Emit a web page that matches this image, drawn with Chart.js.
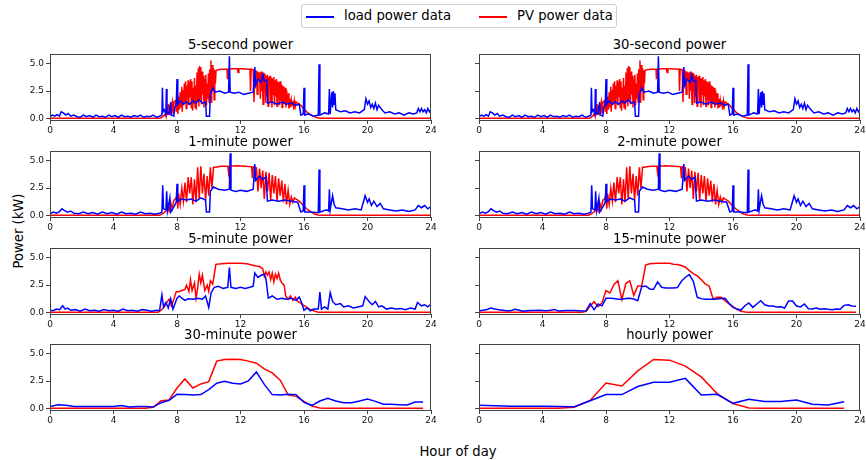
<!DOCTYPE html>
<html><head><meta charset="utf-8">
<script src="https://cdn.jsdelivr.net/npm/chart.js@4"></script>
<style>
body{margin:0;width:866px;height:460px;overflow:hidden;background:#fff;font-family:"DejaVu Sans",sans-serif;position:relative}
canvas{position:absolute}
.ttl{position:absolute;font-size:13.2px;line-height:16px;color:#000;white-space:nowrap;transform:translateX(-50%)}
#legend{position:absolute;left:301px;top:4px;width:316px;height:24px;border:1px solid #d0d0d0;border-radius:3px;box-sizing:border-box}
#legend .sw{position:absolute;top:11px;width:28px;height:2px}
#legend .lt{position:absolute;top:3px;font-size:13.2px;line-height:16px;white-space:nowrap}
#ylab{position:absolute;left:18px;top:231px;font-size:13.2px;white-space:nowrap;transform:translate(-50%,-50%) rotate(-90deg)}
#xlab{position:absolute;left:458px;top:451px;font-size:13.2px;white-space:nowrap;transform:translate(-50%,-50%)}
</style></head><body>
<div id="legend">
  <div class="sw" style="left:4px;background:#0000ff"></div><div class="lt" style="left:42px">load power data</div>
  <div class="sw" style="left:177px;background:#ff0000"></div><div class="lt" style="left:215px">PV power data</div>
</div>
<div id="ylab">Power (kW)</div>
<div id="xlab">Hour of day</div>
<script>
// ---------- tick labels ----------
const hourTicks = [0, 4, 8, 12, 16, 20, 24];
const powerTicks = [0, 2.5, 5.0];
const panelTitles = ["5-second power", "30-second power", "1-minute power", "2-minute power",
                     "5-minute power", "15-minute power", "30-minute power", "hourly power"];
const seriesNames = ["load power data", "PV power data"];

// ---------- high-resolution series (5-second / 30-second): [hour, kW] ----------
const load5s = [[0,0.15],[0.15,0.3],[0.3,0.2],[0.45,0.35],[0.6,0.2],[0.7,0.6],[0.85,0.5],[1.0,0.3],[1.15,0.45],[1.3,0.2],[1.5,0.3],[1.7,0.15],[1.9,0.1],[2.1,0.3],[2.3,0.15],[2.5,0.25],[2.7,0.1],[2.9,0.3],[3.1,0.15],[3.3,0.2],[3.5,0.1],[3.7,0.3],[3.9,0.15],[4.1,0.25],[4.3,0.1],[4.5,0.3],[4.7,0.15],[4.9,0.2],[5.1,0.1],[5.3,0.25],[5.5,0.15],[5.7,0.3],[5.9,0.1],[6.1,0.2],[6.3,0.15],[6.5,0.3],[6.7,0.1],[6.9,0.2],[7.05,0.3],[7.08,2.8],[7.12,0.6],[7.2,0.8],[7.3,0.4],[7.33,2.7],[7.37,0.5],[7.5,0.4],[7.6,1.5],[7.65,0.3],[7.8,0.2],[7.85,1.0],[7.95,1.2],[8.0,3.6],[8.05,1.3],[8.2,1.6],[8.4,1.3],[8.6,1.5],[8.8,1.3],[9.0,1.6],[9.2,1.4],[9.4,1.7],[9.6,1.4],[9.8,1.5],[9.85,0.2],[10.05,0.2],[10.1,2.2],[10.25,2.8],[10.4,2.4],[10.7,2.5],[11.0,2.3],[11.25,2.4],[11.3,5.7],[11.35,2.4],[11.6,2.3],[11.9,2.4],[12.2,2.2],[12.5,2.3],[12.8,2.4],[12.9,4.7],[12.95,3.0],[13.1,3.6],[13.3,3.3],[13.4,4.0],[13.5,3.4],[13.65,3.5],[13.7,1.4],[14.0,1.5],[14.3,1.3],[14.6,1.5],[14.9,1.3],[15.2,1.4],[15.5,1.2],[15.7,1.3],[15.8,0.3],[15.95,0.4],[16.0,2.8],[16.05,0.3],[16.3,0.4],[16.6,0.2],[16.9,0.3],[16.95,4.95],[17.0,0.3],[17.3,0.5],[17.55,0.4],[17.6,2.7],[17.65,0.4],[17.75,2.4],[17.8,1.0],[17.85,2.5],[17.9,1.3],[17.95,2.3],[18.0,0.8],[18.3,0.6],[18.6,0.7],[18.9,0.5],[19.2,0.6],[19.5,0.5],[19.8,0.8],[19.9,1.8],[20.0,1.3],[20.1,1.6],[20.2,1.0],[20.3,1.3],[20.4,0.9],[20.5,1.4],[20.6,0.8],[20.7,1.2],[20.9,0.8],[21.1,0.5],[21.4,0.6],[21.7,0.4],[22.0,0.5],[22.3,0.3],[22.6,0.5],[22.9,0.4],[23.1,0.5],[23.2,0.9],[23.3,0.6],[23.4,0.9],[23.5,0.6],[23.6,0.8],[23.7,0.5],[23.8,0.9],[23.9,0.6],[24.0,0.8]];
const pv5s = [[0,0],[6.9,0],[7.0,0.05],[7.15,0.2],[7.25,0.4],[7.3,0.2],[7.35,0.9],[7.4,0.3],[7.45,1.3],[7.5,0.4],[7.55,1.2],[7.6,0.6],[7.7,1.5],[7.75,0.5],[7.8,1.5],[7.9,1.6],[7.95,0.6],[8.0,1.8],[8.05,0.4],[8.1,2.0],[8.15,0.8],[8.2,2.4],[8.25,1.0],[8.3,2.9],[8.33,0.6],[8.38,2.6],[8.42,1.2],[8.46,3.2],[8.5,1.5],[8.54,3.4],[8.58,0.9],[8.62,3.0],[8.66,1.8],[8.7,3.5],[8.74,1.2],[8.78,3.3],[8.82,2.0],[8.86,3.6],[8.9,1.0],[8.94,3.4],[8.98,0.7],[9.02,2.8],[9.06,1.3],[9.1,3.7],[9.14,1.0],[9.18,3.0],[9.22,0.8],[9.26,4.2],[9.3,1.5],[9.34,4.6],[9.38,1.1],[9.42,4.8],[9.46,1.8],[9.5,4.7],[9.54,1.3],[9.58,4.3],[9.62,2.2],[9.66,3.9],[9.7,1.0],[9.74,3.6],[9.78,1.6],[9.82,4.0],[9.86,1.2],[9.9,3.2],[9.94,1.8],[9.98,4.1],[10.02,1.5],[10.06,4.5],[10.1,2.0],[10.14,5.3],[10.18,1.4],[10.22,4.9],[10.26,2.5],[10.3,4.6],[10.34,1.7],[10.38,4.4],[10.42,3.2],[10.46,4.4],[10.6,4.45],[10.8,4.5],[11.0,4.5],[11.15,4.5],[11.18,3.6],[11.22,4.5],[11.5,4.55],[11.8,4.55],[11.85,4.2],[11.9,4.55],[12.2,4.55],[12.5,4.5],[12.6,4.5],[12.63,2.5],[12.67,4.5],[12.8,4.45],[12.85,1.5],[12.9,4.4],[13.0,4.3],[13.05,2.2],[13.1,4.3],[13.15,3.5],[13.2,4.2],[13.25,1.8],[13.3,4.3],[13.34,2.5],[13.38,4.0],[13.42,1.3],[13.46,4.2],[13.5,2.6],[13.54,4.1],[13.58,1.4],[13.62,3.9],[13.66,2.0],[13.7,4.0],[13.74,1.1],[13.78,3.8],[13.82,2.8],[13.86,3.9],[13.9,1.5],[13.94,3.7],[13.98,1.0],[14.02,3.6],[14.06,2.2],[14.1,3.8],[14.14,1.2],[14.18,3.5],[14.22,2.0],[14.26,3.6],[14.3,1.1],[14.34,3.4],[14.38,1.8],[14.42,3.3],[14.46,1.2],[14.5,3.4],[14.54,1.6],[14.58,3.1],[14.62,1.0],[14.66,3.0],[14.7,1.5],[14.74,2.9],[14.78,1.3],[14.82,2.8],[14.86,1.0],[14.9,2.6],[14.95,1.4],[15.0,2.3],[15.05,0.9],[15.1,1.8],[15.15,1.0],[15.2,1.7],[15.25,1.2],[15.3,1.6],[15.35,0.8],[15.4,1.6],[15.45,1.1],[15.5,1.5],[15.6,1.4],[15.7,1.3],[15.8,1.2],[15.9,1.0],[16.0,0.85],[16.2,0.55],[16.4,0.35],[16.6,0.18],[16.8,0.07],[17.0,0.02],[17.2,0],[24,0]];

// ---------- 1-minute / 2-minute series: [hour, kW] ----------
const load1m = [[0,0.15],[0.2,0.3],[0.4,0.2],[0.6,0.35],[0.75,0.6],[0.9,0.45],[1.1,0.3],[1.3,0.4],[1.5,0.2],[1.8,0.15],[2.1,0.3],[2.4,0.15],[2.7,0.25],[3.0,0.1],[3.3,0.3],[3.6,0.15],[3.9,0.25],[4.2,0.1],[4.5,0.3],[4.8,0.15],[5.1,0.2],[5.4,0.1],[5.7,0.3],[6.0,0.15],[6.3,0.2],[6.6,0.1],[6.9,0.2],[7.05,0.3],[7.1,2.75],[7.15,0.6],[7.3,0.5],[7.35,2.2],[7.4,0.4],[7.55,1.6],[7.6,0.3],[7.85,0.9],[7.95,1.2],[8.0,2.9],[8.05,1.3],[8.3,1.5],[8.6,1.4],[8.9,1.5],[9.2,1.3],[9.5,1.6],[9.8,1.4],[9.85,0.3],[10.05,0.3],[10.1,2.2],[10.3,2.6],[10.6,2.4],[11.0,2.3],[11.3,2.4],[11.35,5.7],[11.4,2.3],[11.7,2.2],[12.0,2.3],[12.4,2.2],[12.8,2.4],[12.9,4.7],[12.95,3.2],[13.2,3.6],[13.4,3.3],[13.6,3.5],[13.7,1.3],[14.0,1.4],[14.4,1.3],[14.8,1.4],[15.2,1.3],[15.6,1.2],[15.8,0.3],[15.95,0.4],[16.0,2.75],[16.05,0.3],[16.4,0.3],[16.9,0.25],[16.95,4.2],[17.0,0.3],[17.4,0.5],[17.55,0.4],[17.6,2.4],[17.65,0.5],[17.8,1.8],[17.9,1.0],[18.0,0.7],[18.4,0.6],[18.8,0.5],[19.2,0.6],[19.6,0.5],[19.85,1.8],[20.0,1.2],[20.1,1.5],[20.25,0.9],[20.4,1.3],[20.6,0.8],[20.8,1.1],[21.0,0.6],[21.4,0.5],[21.8,0.4],[22.2,0.5],[22.6,0.35],[23.0,0.5],[23.2,0.9],[23.4,0.7],[23.6,0.9],[23.8,0.6],[24.0,0.8]];
const pv1m = [[0,0],[6.9,0],[7.1,0.15],[7.3,0.4],[7.4,0.9],[7.5,0.4],[7.6,1.2],[7.7,0.6],[7.8,1.4],[7.9,1.5],[8.0,1.8],[8.05,0.6],[8.1,2.0],[8.2,1.0],[8.3,2.5],[8.4,1.3],[8.5,3.0],[8.6,1.2],[8.7,3.5],[8.8,2.0],[8.9,3.5],[9.0,1.0],[9.1,3.3],[9.2,1.2],[9.3,4.4],[9.4,1.5],[9.5,4.5],[9.6,2.0],[9.7,3.8],[9.8,1.4],[9.9,3.6],[10.0,1.8],[10.1,4.4],[10.2,2.5],[10.3,4.4],[10.4,4.4],[10.8,4.5],[11.2,4.5],[11.25,3.9],[11.3,4.5],[11.8,4.55],[12.3,4.5],[12.7,4.45],[12.75,3.4],[12.8,4.45],[13.0,4.35],[13.1,2.2],[13.2,4.3],[13.3,2.5],[13.4,4.1],[13.5,1.5],[13.6,4.0],[13.7,2.2],[13.8,3.9],[13.9,1.4],[14.0,3.7],[14.1,2.0],[14.2,3.6],[14.3,1.3],[14.4,3.4],[14.5,1.8],[14.6,3.2],[14.7,1.2],[14.8,2.9],[14.9,1.0],[15.0,2.3],[15.1,1.0],[15.2,1.7],[15.3,1.2],[15.4,1.6],[15.5,1.5],[15.7,1.3],[15.9,1.0],[16.1,0.7],[16.3,0.45],[16.5,0.25],[16.7,0.1],[16.9,0.03],[17.1,0],[24,0]];

// ---------- 5-minute series: [hour, kW] ----------
const load5m = [[0,0.15],[0.25,0.2],[0.4,0.3],[0.6,0.25],[0.8,0.6],[0.95,0.3],[1.1,0.4],[1.3,0.2],[1.6,0.25],[1.9,0.1],[2.2,0.3],[2.5,0.15],[2.8,0.2],[3.1,0.1],[3.4,0.25],[3.7,0.15],[4.0,0.2],[4.3,0.1],[4.6,0.3],[4.9,0.15],[5.2,0.2],[5.5,0.1],[5.8,0.25],[6.1,0.2],[6.4,0.1],[6.7,0.2],[6.9,0.15],[7.05,1.6],[7.15,0.5],[7.3,0.9],[7.45,0.4],[7.6,1.25],[7.75,0.3],[7.9,0.9],[8.0,1.3],[8.15,1.5],[8.3,1.3],[8.5,1.1],[8.7,1.25],[9.0,1.2],[9.3,1.3],[9.6,1.2],[9.8,1.5],[10.0,0.45],[10.15,1.8],[10.35,2.3],[10.6,2.4],[10.9,2.2],[11.2,2.3],[11.3,4.1],[11.4,2.3],[11.7,2.2],[12.0,2.3],[12.3,2.2],[12.6,2.3],[12.8,2.4],[12.9,3.6],[13.1,3.2],[13.3,3.4],[13.5,3.5],[13.6,3.1],[13.75,1.3],[14.0,1.5],[14.3,1.2],[14.6,1.3],[14.9,1.2],[15.2,1.3],[15.5,1.1],[15.7,1.4],[15.85,0.9],[16.0,0.2],[16.2,0.4],[16.4,0.15],[16.6,0.3],[16.9,0.3],[17.0,1.85],[17.1,0.3],[17.3,0.5],[17.5,0.3],[17.65,1.8],[17.8,1.0],[18.0,0.7],[18.3,0.8],[18.5,0.5],[18.8,0.6],[19.1,0.4],[19.4,0.5],[19.7,0.6],[19.85,1.45],[20.1,1.0],[20.3,0.7],[20.5,1.0],[20.7,0.5],[20.9,0.6],[21.2,0.3],[21.5,0.4],[21.8,0.3],[22.1,0.35],[22.4,0.25],[22.7,0.4],[23.0,0.3],[23.15,0.9],[23.4,0.6],[23.6,0.7],[23.8,0.5],[23.95,0.7]];
const pv5m = [[0,0],[6.8,0],[7.0,0.2],[7.2,0.5],[7.4,1.0],[7.5,1.2],[7.65,0.6],[7.8,1.2],[7.95,1.9],[8.1,1.9],[8.3,2.0],[8.5,2.1],[8.6,2.5],[8.75,1.9],[8.85,3.0],[8.95,2.0],[9.1,2.7],[9.2,1.3],[9.3,2.2],[9.4,3.5],[9.5,2.7],[9.6,3.4],[9.75,2.0],[9.9,2.5],[10.0,1.9],[10.1,2.9],[10.25,2.6],[10.45,4.4],[10.8,4.45],[11.2,4.5],[11.6,4.5],[12.0,4.5],[12.4,4.45],[12.7,4.35],[13.0,4.25],[13.2,4.2],[13.4,4.0],[13.5,3.3],[13.6,3.7],[13.7,3.4],[13.8,3.7],[13.9,3.0],[14.0,3.6],[14.1,2.8],[14.2,3.5],[14.3,3.1],[14.4,3.6],[14.5,3.0],[14.6,2.7],[14.75,2.5],[14.85,1.5],[15.0,1.2],[15.15,1.5],[15.3,1.1],[15.45,1.4],[15.6,1.0],[15.75,0.9],[15.9,0.7],[16.1,0.55],[16.3,0.35],[16.5,0.2],[16.7,0.1],[16.9,0.02],[17.1,0],[24,0]];

// ---------- 15-minute series (every 0.25 h from 0:00) ----------
const load15m = [0.15,0.2,0.27,0.4,0.3,0.25,0.2,0.15, 0.15,0.28,0.22,0.1,0.15,0.18,0.18,0.2, 0.18,0.15,0.2,0.27,0.12,0.15,0.18,0.18, 0.18,0.15,0.12,0.15, 0.8,0.25,0.77,0.6, 1.29,1.29,1.26,1.2, 1.2,1.26,1.29,1.23, 1.07,2.36,2.42,2.15, 2.12,2.8,2.3,2.24, 2.24,2.24,2.27,2.85, 3.22,3.47,2.85,1.38, 1.26,1.2,1.2,1.2, 1.23,1.26,1.29,0.83, 0.46,0.3,0.21,0.61, 0.86,0.46,0.77,1.07, 0.7,0.58,0.58,0.5, 0.52,0.4,1.04,1.04, 0.58,0.5,0.77,0.34, 0.31,0.4,0.28,0.34, 0.28,0.25,0.31,0.28, 0.64,0.7,0.58,0.55];
const pv15m = [0,0,0,0, 0,0,0,0, 0,0,0,0, 0,0,0,0, 0,0,0,0, 0,0,0,0, 0,0,0,0.09, 0.58,0.98,0.52,0.89, 2.0,1.78,2.55,2.9, 1.17,2.64,2.9,1.56, 2.42,2.42,4.33,4.45, 4.48,4.5,4.5,4.5, 4.5,4.41,4.38,4.3, 4.14,3.83,3.56,3.34, 3.0,2.6,2.4,1.23, 1.38,1.38,1.07,0.77, 0.52,0.28,0.1,0.03, 0,0,0,0, 0,0,0,0, 0,0,0,0, 0,0,0,0, 0,0,0,0, 0,0,0,0, 0,0,0,0];

// ---------- 30-minute series (every 0.5 h from 0:00) ----------
const load30m = [0.18,0.34, 0.28,0.18, 0.18,0.18, 0.17,0.18, 0.18,0.26, 0.12,0.18, 0.18,0.12, 0.52,0.74, 1.29,1.26, 1.23,1.26, 1.72,2.3, 2.48,2.3, 2.24,2.52, 3.34,2.2, 1.26,1.23, 1.29,1.26, 0.55,0.28, 0.67,0.92, 0.67,0.52, 0.52,0.67, 0.86,0.64, 0.37,0.37, 0.34,0.31, 0.58,0.58];
const pv30m = [0,0, 0,0, 0,0, 0,0, 0,0, 0,0, 0,0.1, 0.7,0.77, 1.87,2.7, 1.87,2.24, 2.45,4.33, 4.48,4.5, 4.48,4.33, 4.14,3.62, 3.25,2.58, 1.23,1.1, 0.64,0.21, 0.03,0, 0,0, 0,0, 0,0, 0,0, 0,0, 0,0];

// ---------- hourly series (hours 0..23) ----------
const loadHourly = [0.28,0.24,0.2,0.2,0.2,0.18,0.15,0.7,1.26,1.26,2.0,2.4,2.4,2.75,1.23,1.29,0.46,0.83,0.64,0.64,0.77,0.37,0.3,0.61];
const pvHourly = [0,0,0,0,0,0,0.1,0.73,2.33,2.05,3.43,4.48,4.42,3.87,2.88,1.35,0.43,0.03,0,0,0,0,0,0];
</script>
<script>
const pairs = a => a.map(p => ({x: p[0], y: p[1]}));
const spaced = (a, dt) => a.map((v, i) => ({x: i * dt, y: v}));
const panels = [
  {load: pairs(load5s), pv: pairs(pv5s)},
  {load: pairs(load5s), pv: pairs(pv5s)},
  {load: pairs(load1m), pv: pairs(pv1m)},
  {load: pairs(load1m), pv: pairs(pv1m)},
  {load: pairs(load5m), pv: pairs(pv5m)},
  {load: spaced(load15m, 0.25), pv: spaced(pv15m, 0.25)},
  {load: spaced(load30m, 0.5), pv: spaced(pv30m, 0.5)},
  {load: spaced(loadHourly, 1), pv: spaced(pvHourly, 1)}
];
const colLeft = [50, 479], rowTop = [54, 151, 248, 344];
const PW = 381, PH = 66, YW = 44, PADT = 8, PADR = 10, XH = 20;
const AX = '#444';
const frame = {id:'frame', afterDraw(c){const a=c.chartArea,x=c.ctx;x.save();x.strokeStyle=AX;x.lineWidth=1;x.strokeRect(Math.round(a.left)+0.5,Math.round(a.top)+0.5,Math.round(a.right-a.left)-1,Math.round(a.bottom-a.top));x.restore();}};
panels.forEach((p, i) => {
  const col = i % 2, row = Math.floor(i / 2);
  const L = colLeft[col], T = rowTop[row];
  const t = document.createElement('div');
  t.className = 'ttl'; t.textContent = panelTitles[i];
  t.style.left = (L + PW / 2) + 'px'; t.style.top = (T - 17) + 'px';
  document.body.appendChild(t);
  const cv = document.createElement('canvas');
  cv.width = PW + YW + PADR; cv.height = PH + PADT + XH;
  cv.style.left = (L - YW) + 'px'; cv.style.top = (T - PADT) + 'px';
  document.body.appendChild(cv);
  new Chart(cv, {
    type: 'line',
    data: {datasets: [
      {label: seriesNames[0], data: p.load, borderColor: '#0000ff', borderWidth: 1.5, pointRadius: 0, tension: 0},
      {label: seriesNames[1], data: p.pv, borderColor: '#ff0000', borderWidth: 1.5, pointRadius: 0, tension: 0}
    ]},
    options: {
      responsive: false, animation: false, devicePixelRatio: 1,
      layout: {padding: {top: PADT, right: PADR, left: 0, bottom: 0}},
      plugins: {legend: {display: false}, tooltip: {enabled: false}},
      scales: {
        x: {type: 'linear', min: 0, max: 24,
            afterBuildTicks: s => { s.ticks = hourTicks.map(v => ({value: v})); },
            afterFit: s => { s.height = XH; },
            grid: {drawOnChartArea: false, drawTicks: true, tickLength: 4, color: AX},
            border: {display: true, color: AX},
            ticks: {autoSkip: false, maxRotation: 0, padding: 1, color: '#111', font: {family: 'DejaVu Sans', size: 9}}},
        y: {type: 'linear', min: -0.15, max: 5.9,
            afterBuildTicks: s => { s.ticks = powerTicks.map(v => ({value: v})); },
            afterFit: s => { s.width = YW; },
            grid: {drawOnChartArea: false, drawTicks: true, tickLength: 4, color: AX},
            border: {display: true, color: AX},
            ticks: {display: col === 0, padding: 2, color: '#111', font: {family: 'DejaVu Sans', size: 9},
                    callback: v => v.toFixed(1)}}
      }
    },
    plugins: [frame]
  });
});
</script>
</body></html>
